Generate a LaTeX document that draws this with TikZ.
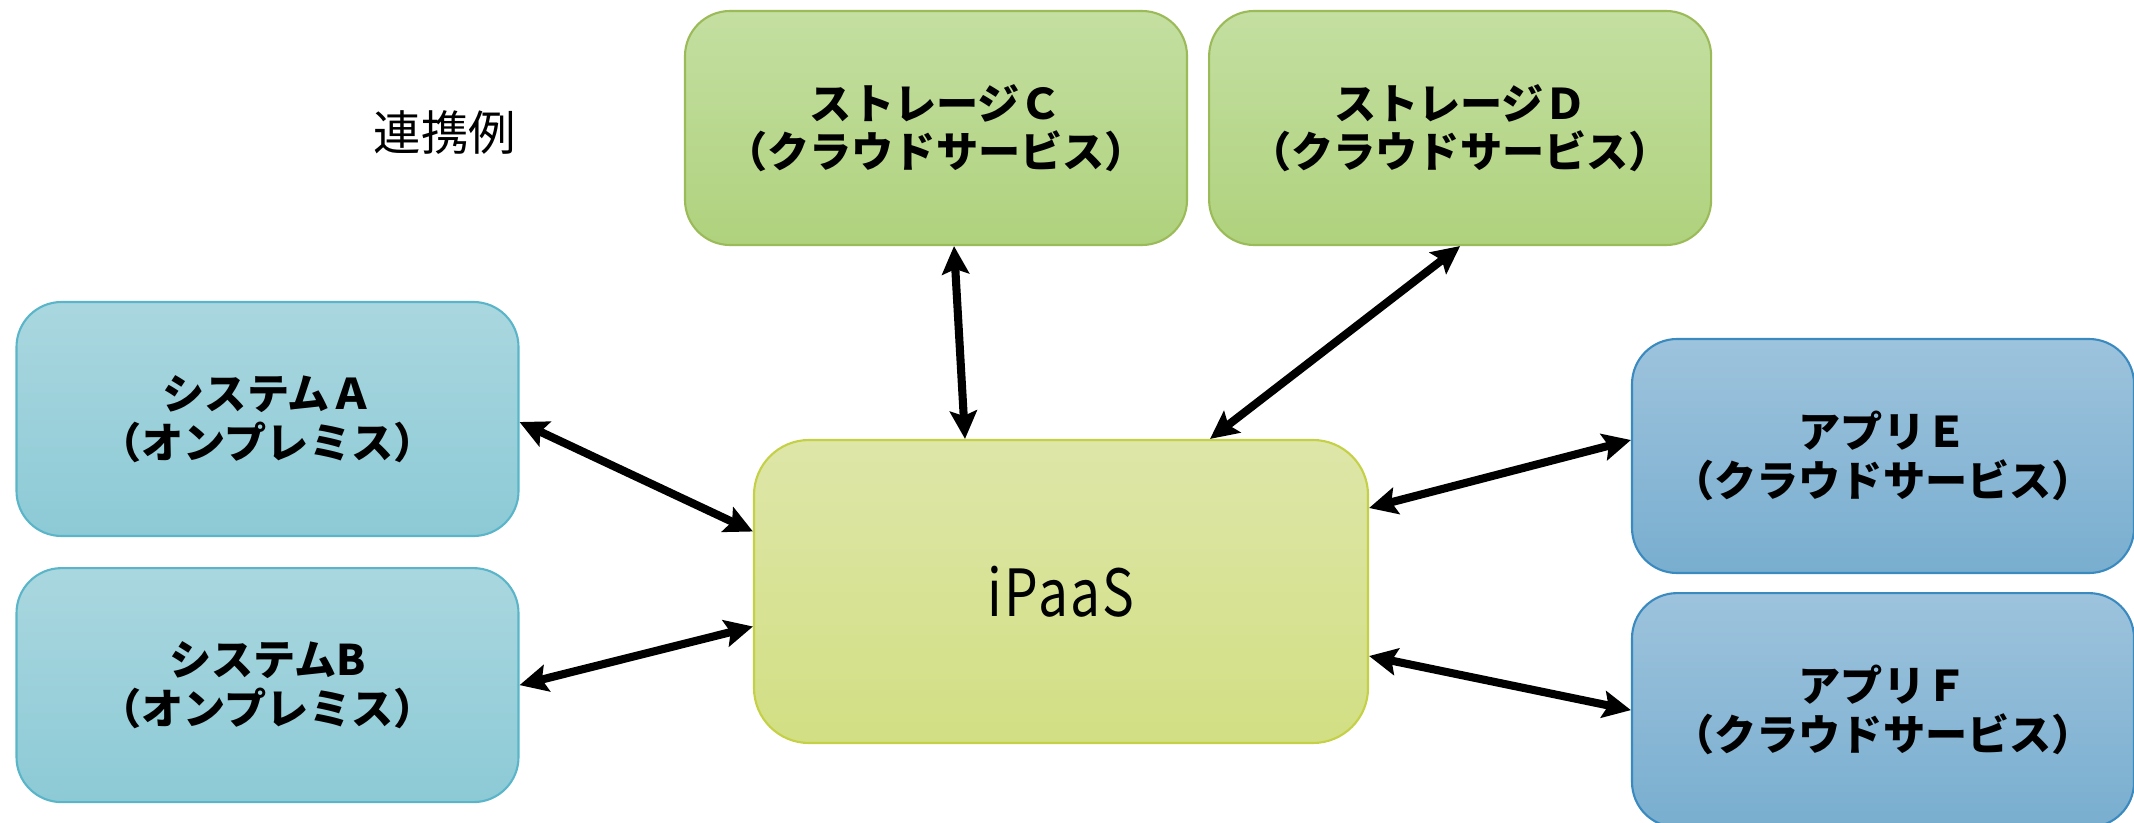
\documentclass[tikz,border=0pt]{standalone}
\usepackage{fontspec}
\setmainfont{Noto Sans CJK JP}
\usetikzlibrary{arrows.meta,positioning}

\definecolor{strgtop}{HTML}{C4DFA1}
\definecolor{strgbot}{HTML}{AFD27D}
\definecolor{strgline}{HTML}{9BBB59}
\definecolor{hubtop}{HTML}{DEE6A8}
\definecolor{hubbot}{HTML}{D2DF83}
\definecolor{hubline}{HTML}{C4D045}
\definecolor{premtop}{HTML}{AAD7DF}
\definecolor{prembot}{HTML}{8CCAD6}
\definecolor{premline}{HTML}{5AB5C9}
\definecolor{cldtop}{HTML}{9DC3DD}
\definecolor{cldbot}{HTML}{79AECF}
\definecolor{cldline}{HTML}{3A8AC0}

\begin{document}
\begin{tikzpicture}[
  box/.style={draw, rounded corners=0.45cm, minimum width=5.02cm, minimum height=2.34cm,
    align=center, line width=0.6pt, font=\fontsize{12}{13.8}\selectfont\bfseries},
  storage/.style={box, draw=strgline, top color=strgtop, bottom color=strgbot},
  onprem/.style={box, draw=premline, top color=premtop, bottom color=prembot},
  cloud/.style={box, draw=cldline, top color=cldtop, bottom color=cldbot},
  hub/.style={draw=hubline, top color=hubtop, bottom color=hubbot, rounded corners=0.55cm,
    minimum width=6.14cm, minimum height=3.03cm, line width=0.6pt, font=\fontsize{18.5}{22}\selectfont},
  link/.style={{Stealth[length=0.28cm,width=0.27cm,inset=0.05cm]}-{Stealth[length=0.28cm,width=0.27cm,inset=0.05cm]}, line width=2.3pt}
]
\useasboundingbox (0,0) rectangle (21.34,8.22);

% title
\node (title) at (4.45,6.89) {\fontsize{13.5}{15}\selectfont 連携例};

% storages
\node[storage] (strc) at (9.36,6.94) {ストレージＣ\\（クラウドサービス）};
\node[storage] (strd) [right=0.2cm of strc] {ストレージＤ\\（クラウドサービス）};

% on-premise systems
\node[onprem] (sysa) at (2.675,4.03) {システムＡ\\（オンプレミス）};
\node[onprem] (sysb) [below=0.3cm of sysa] {システムB\\（オンプレミス）};

% iPaaS
\node[hub] (ipaas) at (10.61,2.305) {\scalebox{0.82}[1]{\addfontfeature{LetterSpace=4}iPaaS}};

% cloud apps
\node[cloud] (appe) at (18.83,3.66) {アプリＥ\\（クラウドサービス）};
\node[cloud] (appf) [below=0.18cm of appe] {アプリＦ\\（クラウドサービス）};

% links
\draw[link] ([yshift=-0.03cm]sysa.east) -- ([yshift=0.6cm]ipaas.west);
\draw[link] (sysb.east) -- ([yshift=-0.35cm]ipaas.west);
\draw[link] ([xshift=0.18cm]strc.south) -- ([xshift=-0.96cm]ipaas.north);
\draw[link] (strd.south) -- ([xshift=1.49cm]ipaas.north);
\draw[link] ([yshift=0.16cm]appe.west) -- ([yshift=0.835cm]ipaas.east);
\draw[link] (appf.west) -- ([yshift=-0.645cm]ipaas.east);
\end{tikzpicture}
\end{document}
